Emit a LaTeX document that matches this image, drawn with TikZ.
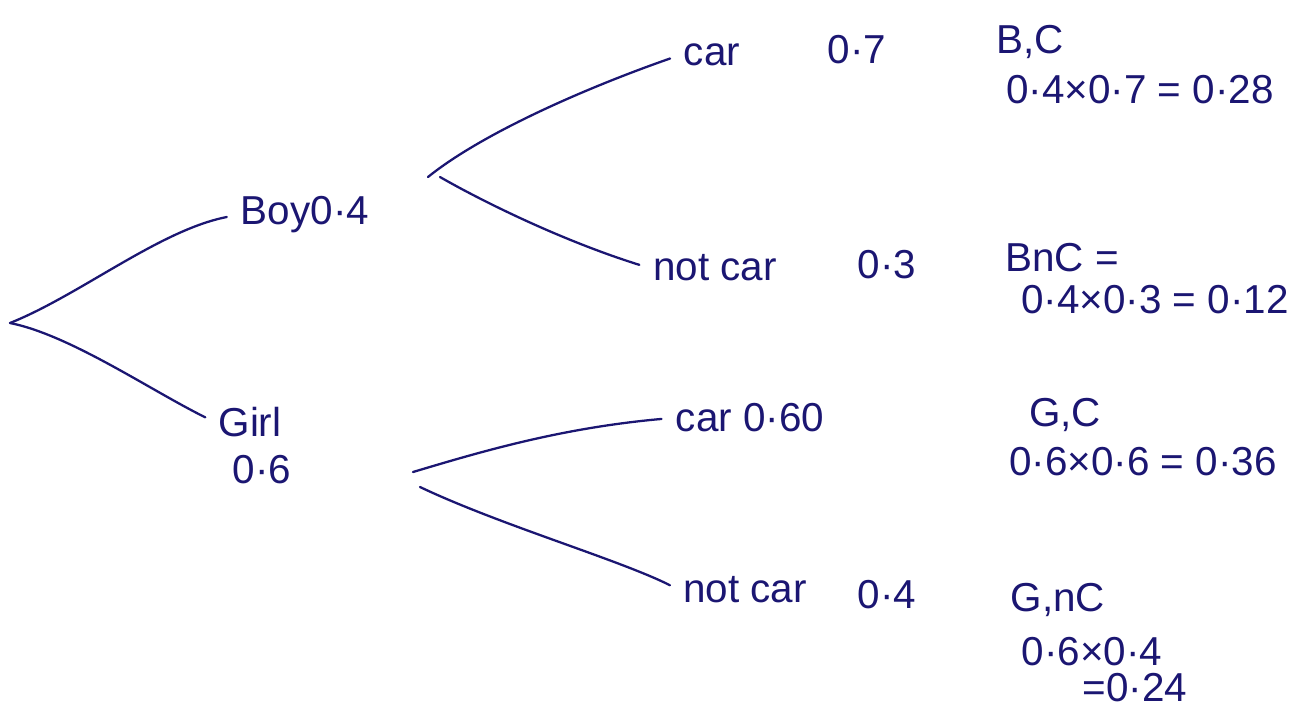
\documentclass[tikz,border=0pt]{standalone}
\usepackage{fontspec}
\setmainfont{Liberation Sans}
\usetikzlibrary{positioning}
\definecolor{ink}{HTML}{1B1672}

\begin{document}
\begin{tikzpicture}[
    x=0.02cm, y=-0.02cm,
    font=\fontsize{23}{26}\selectfont,
    lbl/.style={text=ink, inner sep=2pt},
    branch/.style={draw=ink, line width=1.3pt, line cap=round, shorten >=6pt}
]
\useasboundingbox (0,0) rectangle (1313,711);

% forks
\coordinate (root) at (10,323);
\coordinate (boyup) at (428,177);
\coordinate (boylow) at (440,177);
\coordinate (girlup) at (413,472);
\coordinate (girllow) at (420,487);

% first level
\node[lbl] (boy) at (305,215) {Boy0·4};
\node[lbl] (girl) at (250,422) {Girl};
\node[lbl] (girlp) at (262,470) {0·6};

% second level, boy
\node[lbl] (bcar) at (712,55) {car};
\node[lbl] (bcarp) at (857,50) {0·7};
\node[lbl] (bnot) at (715,268) {not car};
\node[lbl] (bnotp) at (887,265) {0·3};

% second level, girl
\node[lbl] (gcar) at (750,418) {car 0·60};
\node[lbl] (gnot) at (745,590) {not car};
\node[lbl] (gnotp) at (887,595) {0·4};

% outcomes
\node[lbl] (bc) at (1030,42) {B,C};
\node[lbl] (bcv) at (1140,90) {0·4×0·7 = 0·28};
\node[lbl] (bnc) at (1062,258) {BnC =};
\node[lbl] (bncv) at (1155,300) {0·4×0·3 = 0·12};
\node[lbl] (gc) at (1065,415) {G,C};
\node[lbl] (gcv) at (1143,462) {0·6×0·6 = 0·36};
\node[lbl] (gnc) at (1058,600) {G,nC};
\node[lbl] (gncv) at (1092,652) {0·6×0·4};
\node[lbl] (gncr) at (1135,688) {=0·24};

% branches
\draw[branch] (root) .. controls (80,295) and (160,230) .. (boy.west);
\draw[branch] (root) .. controls (70,335) and (150,390) .. (girl.west);

\draw[branch] (boyup) .. controls (480,135) and (580,90) .. (bcar.west);
\draw[branch] (boylow) .. controls (480,200) and (560,240) .. (bnot.west);

\draw[branch] (girlup) .. controls (480,452) and (560,428) .. (gcar.west);
\draw[branch] (girllow) .. controls (500,525) and (620,560) .. (gnot.west);

\end{tikzpicture}
\end{document}
